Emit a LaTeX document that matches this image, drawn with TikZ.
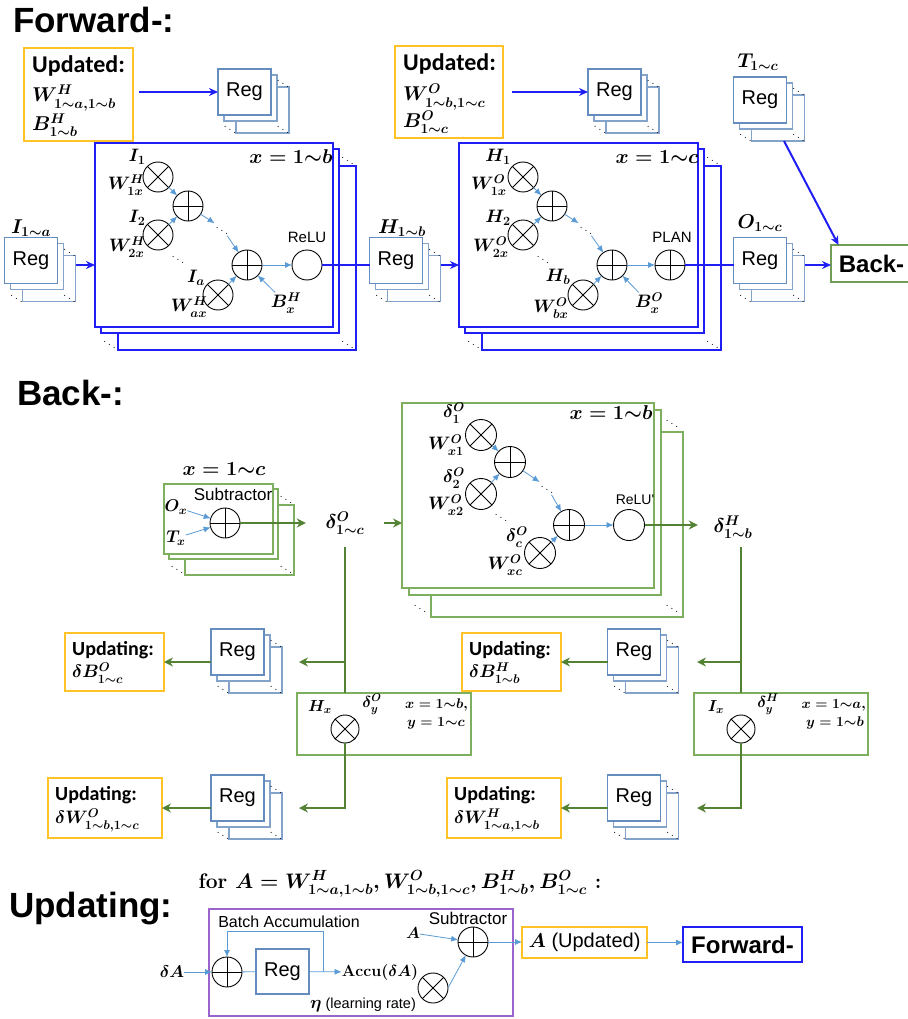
\RequirePackage{fix-cm}
\documentclass[tikz,border=0pt]{standalone}
\usepackage{amsmath}
\usepackage{bm}
\usepackage{fontspec}
\newfontfamily\arial{Liberation Sans}
\newfontfamily\calibri{Carlito}
\usetikzlibrary{arrows.meta,backgrounds}

\definecolor{fblue}{RGB}{30,30,245}
\definecolor{regc}{RGB}{100,140,190}
\definecolor{gold}{RGB}{255,195,40}
\definecolor{sigc}{RGB}{91,155,213}
\definecolor{dgreen}{RGB}{84,130,53}
\definecolor{lgreen}{RGB}{125,175,95}
\definecolor{purp}{RGB}{155,100,205}

\newcommand\fsz[1]{\fontsize{#1}{#1}\selectfont}
% two shifted copies behind a front box, with the dots between them
\newcommand\stackbehind[4]{%
  \pgfmathsetmacro\lyrmid{(#2+#3)/2}
  \begin{scope}[on background layer]
    \draw[#4,fill=white] ([shift={(#3,#3)}]#1.north west) rectangle ([shift={(#3,#3)}]#1.south east);
    \draw[#4,fill=white] ([shift={(#2,#2)}]#1.north west) rectangle ([shift={(#2,#2)}]#1.south east);
  \end{scope}
  \node[dotn] at ([shift={(\lyrmid,\lyrmid)}]#1.north east) {$\ddots$};
  \node[dotn] at ([shift={(\lyrmid,\lyrmid)}]#1.south west) {$\ddots$};
  \node[dotn] at ([shift={(\lyrmid,\lyrmid)}]#1.south east) {$\ddots$};
}

\begin{document}
\begin{tikzpicture}[x=1pt,y=-1pt,
  regbox/.style={draw=regc,line width=1.1pt,fill=white,minimum width=53pt,minimum height=46pt,inner sep=0pt,outer sep=0pt,font=\arial\fsz{20pt}},
  bigf/.style={draw=fblue,line width=1.3pt,fill=white,inner sep=0pt,outer sep=0pt},
  bigb/.style={draw=lgreen,line width=1.1pt,fill=white,inner sep=0pt,outer sep=0pt},
  ubox/.style={draw=gold,line width=1.2pt,inner sep=0pt,outer sep=0pt},
  mulc/.style={circle,draw,line width=0.9pt,fill=white,minimum size=30pt,inner sep=0pt,outer sep=0pt,
    path picture={\draw[line width=0.9pt] (path picture bounding box.north west) -- (path picture bounding box.south east)
      (path picture bounding box.north east) -- (path picture bounding box.south west);}},
  addc/.style={circle,draw,line width=0.9pt,fill=white,minimum size=30pt,inner sep=0pt,outer sep=0pt,
    path picture={\draw[line width=0.9pt] (path picture bounding box.north) -- (path picture bounding box.south)
      (path picture bounding box.west) -- (path picture bounding box.east);}},
  ringc/.style={circle,draw,line width=0.9pt,fill=white,minimum size=30pt,inner sep=0pt,outer sep=0pt},
  ml/.style={inner sep=0pt,font=\fsz{#1}\boldmath},
  sf/.style={inner sep=0pt,font=\arial\fsz{#1}},
  ut/.style={anchor=west,inner sep=0pt,font=\calibri\bfseries\fsz{#1}},
  ttl/.style={anchor=base west,inner sep=0pt,font=\arial\bfseries\fsz{35pt}},
  dotn/.style={inner sep=0pt,font=\fsz{12pt}\boldmath},
  sig/.style={draw=sigc,line width=0.8pt,-{Latex[length=7pt,width=6pt]}},
  sigl/.style={draw=sigc,line width=0.8pt},
  fwd/.style={draw=fblue,line width=2pt,-{Stealth[length=9pt,width=8pt]}},
  fwdl/.style={draw=fblue,line width=2pt},
  bk/.style={draw=dgreen,line width=2pt,-{Stealth[length=9pt,width=9pt]}},
  bkl/.style={draw=dgreen,line width=2pt}]
\useasboundingbox (0,0) rectangle (907,1019);

% ---------- forward ----------
\node[ttl] at (13,33) {Forward-:};

% updated hidden weights
\node[ubox,minimum width=109pt,minimum height=93pt] (upd1) at (78.5,94.5) {};
\node[ut=24pt] at (32,66) {Updated:};
\node[ml=20pt,anchor=west] at (32,98) {$W^{H}_{1{\sim}a,1{\sim}b}$};
\node[ml=20pt,anchor=west] at (32,125) {$B^{H}_{1{\sim}b}$};
\node[regbox] (reg1) at (244.5,92) {Reg};
\stackbehind{reg1}{6}{18}{draw=regc!80,line width=1.1pt}
\draw[fwd,shorten <=6pt] (upd1.east |- reg1) -- (reg1.west);

% inputs
\node[regbox] (regI) at (31,260.5) {Reg};
\stackbehind{regI}{6}{18}{draw=regc!80,line width=1.1pt}
\node[ml=20pt] at (31,228) {$I_{1{\sim}a}$};

% hidden neuron x
\node[bigf,minimum width=238pt,minimum height=184pt] (fb1) at (214,235) {};
\stackbehind{fb1}{6}{23}{draw=fblue,line width=1.3pt}
\node[ml=20pt] at (291,157) {$x=1{\sim}b$};
\node[mulc] (m11) at (158,177) {};
\node[addc] (a11) at (188,206) {};
\node[mulc] (m12) at (158,235) {};
\node[addc] (a12) at (247,265) {};
\node[mulc] (m13) at (218,295) {};
\node[ringc] (relu) at (307,265) {};
\node[dotn] (d11) at (222,228) {$\ddots$};
\node[dotn] (d12) at (178,257) {$\ddots$};
\node[ml=18pt] at (137,157) {$I_1$};
\node[ml=18pt] at (126,185) {$W^{H}_{1x}$};
\node[ml=18pt] at (137,218) {$I_2$};
\node[ml=18pt] at (127,247) {$W^{H}_{2x}$};
\node[ml=18pt] at (196,278) {$I_a$};
\node[ml=18pt] at (189,307) {$W^{H}_{ax}$};
\node[ml=18pt] (bh) at (286,303) {$B^{H}_{x}$};
\node[sf=15pt] at (307,237) {ReLU};
\draw[sig] (m11) -- (a11);
\draw[sig] (m12) -- (a11);
\draw[sig] (a11) -- (d11);
\draw[sig] (d11) -- (a12);
\draw[sig] (m13) -- (a12);
\draw[sig] (bh) -- (a12);
\draw[sig] (a12) -- (relu);
\coordinate (iI) at ([shift={(18,4.5)}]regI.east);
\draw[fwd] (iI) -- (iI -| fb1.west);

% hidden outputs
\node[regbox] (regH) at (396,260.5) {Reg};
\stackbehind{regH}{6}{18}{draw=regc!80,line width=1.1pt}
\node[ml=20pt] at (402,228) {$H_{1{\sim}b}$};
\draw[fwdl] (relu) -- (relu -| regH.west);

% updated output weights
\node[ubox,minimum width=108pt,minimum height=92pt] (upd2) at (449,92) {};
\node[ut=24pt] at (403,64) {Updated:};
\node[ml=20pt,anchor=west] at (403,97) {$W^{O}_{1{\sim}b,1{\sim}c}$};
\node[ml=20pt,anchor=west] at (403,122) {$B^{O}_{1{\sim}c}$};
\node[regbox] (reg2) at (614.5,92) {Reg};
\stackbehind{reg2}{6}{18}{draw=regc!80,line width=1.1pt}
\draw[fwd,shorten <=9pt] (upd2.east |- reg2) -- (reg2.west);

% output neuron x
\node[bigf,minimum width=239pt,minimum height=184pt] (fb2) at (578.5,235) {};
\stackbehind{fb2}{6}{23}{draw=fblue,line width=1.3pt}
\node[ml=20pt] at (657,157) {$x=1{\sim}c$};
\node[mulc] (m21) at (523,177) {};
\node[addc] (a21) at (552,206) {};
\node[mulc] (m22) at (523,235) {};
\node[addc] (a22) at (612,265) {};
\node[mulc] (m23) at (583,295) {};
\node[addc] (plan) at (670,265) {};
\node[dotn] (d21) at (586,228) {$\ddots$};
\node[dotn] (d22) at (543,257) {$\ddots$};
\node[ml=18pt] at (498,157) {$H_1$};
\node[ml=18pt] at (489,185) {$W^{O}_{1x}$};
\node[ml=18pt] at (498,218) {$H_2$};
\node[ml=18pt] at (491,247) {$W^{O}_{2x}$};
\node[ml=18pt] at (558,277) {$H_b$};
\node[ml=18pt] at (551,308) {$W^{O}_{bx}$};
\node[ml=18pt] (bo) at (649,303) {$B^{O}_{x}$};
\node[sf=15pt] at (672,237) {PLAN};
\draw[sig] (m21) -- (a21);
\draw[sig] (m22) -- (a21);
\draw[sig] (a21) -- (d21);
\draw[sig] (d21) -- (a22);
\draw[sig] (m23) -- (a22);
\draw[sig] (bo) -- (a22);
\draw[sig] (a22) -- (plan);
\coordinate (iH) at ([shift={(18,4.5)}]regH.east);
\draw[fwd] (iH) -- (iH -| fb2.west);

% outputs and targets
\node[regbox] (regO) at (760,260.5) {Reg};
\stackbehind{regO}{6}{18}{draw=regc!80,line width=1.1pt}
\node[ml=20pt] at (760,223) {$O_{1{\sim}c}$};
\draw[fwdl] (plan) -- (plan -| regO.west);
\node[draw=lgreen!90!black,line width=2pt,minimum width=81pt,minimum height=37pt,inner sep=0pt,outer sep=0pt,font=\arial\bfseries\fsz{24pt}] (bkb) at (871.5,263.5) {Back-};
\coordinate (iO) at ([shift={(18,4.5)}]regO.east);
\draw[fwd] (iO) -- (iO -| bkb.west);
\node[regbox] (regT) at (760,100) {Reg};
\stackbehind{regT}{6}{18}{draw=regc!80,line width=1.1pt}
\node[ml=20pt] at (758,62) {$T_{1{\sim}c}$};
\coordinate (oT) at ([shift={(24,18)}]regT.south);
\coordinate (iB) at ([shift={(-33,0)}]bkb.north);
\draw[fwd] (oT) -- (iB);

% ---------- back ----------
\node[ttl] at (17,405) {Back-:};

% output error, x = 1~c
\node[bigb,minimum width=109pt,minimum height=70pt] (sb) at (218.5,519) {};
\stackbehind{sb}{5}{21}{draw=lgreen,line width=1.1pt}
\node[ml=20pt] at (224,469) {$x=1{\sim}c$};
\node[sf=17pt] at (233,494) {Subtractor};
\node[addc] (s1) at (225,523) {};
\node[ml=17pt] (ox) at (176,507) {$O_x$};
\node[ml=17pt] (tx) at (176,538) {$T_x$};
\draw[sig] (ox) -- (s1);
\draw[sig] (tx) -- (s1);
\node[ml=20pt,minimum width=78pt,minimum height=48pt] (dO) at (345,523) {$\delta^{O}_{1{\sim}c}$};
\draw[bk] (s1) -- (dO);

% hidden error, x = 1~b
\node[bigb,minimum width=252pt,minimum height=185pt] (bb) at (528,495.5) {};
\stackbehind{bb}{7}{29}{draw=lgreen,line width=1.1pt}
\node[ml=20pt] at (611,413) {$x=1{\sim}b$};
\node[mulc,minimum size=31pt] (n11) at (481,435) {};
\node[addc,minimum size=31pt] (n12) at (510,462) {};
\node[mulc,minimum size=31pt] (n13) at (481,494) {};
\node[addc,minimum size=31pt] (n14) at (569,525) {};
\node[mulc,minimum size=31pt] (n15) at (540,553) {};
\node[ringc,minimum size=31pt] (relud) at (629,525) {};
\node[dotn] (d31) at (547,487) {$\ddots$};
\node[dotn] (d32) at (501,515) {$\ddots$};
\node[ml=18pt] at (454,413) {$\delta^{O}_{1}$};
\node[ml=18pt] at (446,445) {$W^{O}_{x1}$};
\node[ml=18pt] at (454,478) {$\delta^{O}_{2}$};
\node[ml=18pt] at (446,505) {$W^{O}_{x2}$};
\node[ml=18pt] at (517,537) {$\delta^{O}_{c}$};
\node[ml=18pt] at (505,565) {$W^{O}_{xc}$};
\node[sf=14pt] at (635,500) {ReLU'};
\draw[sig] (n11) -- (n12);
\draw[sig] (n13) -- (n12);
\draw[sig] (n12) -- (d31);
\draw[sig] (d31) -- (n14);
\draw[sig] (n15) -- (n14);
\draw[sig] (n14) -- (relud);
\draw[bk] (dO.east) -- (dO.east -| bb.west);
\node[ml=20pt,minimum width=70pt,minimum height=40pt] (dH) at (733,527) {$\delta^{H}_{1{\sim}b}$};
\draw[bk] (relud) -- (relud -| dH.west);

% output layer gradients
\node[bigb,minimum width=174pt,minimum height=62pt] (hx) at (384,724) {};
\node[mulc,minimum size=28pt] (hm) at (345,729) {};
\node[ml=16pt] at (320,707) {$H_x$};
\node[ml=16pt] at (372,704) {$\delta^{O}_{y}$};
\node[ml=14pt,anchor=east] at (468,705) {$x=1{\sim}b,$};
\node[ml=14pt,anchor=east] at (465,723) {$y=1{\sim}c$};
\draw[bkl] (dO.south) -- (dO.south |- hx.north);

\node[ubox,minimum width=99pt,minimum height=58pt] (uBO) at (114.5,662) {};
\node[ut=20pt] at (72,650) {Updating:};
\node[ml=18pt,anchor=west] at (72,673) {$\delta B^{O}_{1{\sim}c}$};
\node[regbox] (rBO) at (237.5,652) {Reg};
\stackbehind{rBO}{6}{18}{draw=regc!80,line width=1.1pt}
\draw[bk] (rBO.west |- uBO) -- (uBO.east);
\coordinate (jBO) at (dO.south |- uBO);
\coordinate (eBO) at ([shift={(-46,0)}]jBO);
\draw[bk] (jBO) -- (eBO);

\node[ubox,minimum width=114pt,minimum height=60pt] (uWO) at (105,808) {};
\node[ut=20pt] at (55,795) {Updating:};
\node[ml=18pt,anchor=west] at (55,820) {$\delta W^{O}_{1{\sim}b,1{\sim}c}$};
\node[regbox] (rWO) at (237.5,798) {Reg};
\stackbehind{rWO}{6}{18}{draw=regc!80,line width=1.1pt}
\draw[bk] (rWO.west |- uWO) -- (uWO.east);
\coordinate (jWO) at (hm |- uWO);
\coordinate (eWO) at ([shift={(-46,0)}]jWO);
\draw[bk] (hm.south) -- (jWO) -- (eWO);

% hidden layer gradients
\node[bigb,minimum width=174pt,minimum height=62pt] (ix) at (781,724) {};
\node[mulc,minimum size=28pt] (im) at (741,729) {};
\node[ml=16pt] at (716,707) {$I_x$};
\node[ml=16pt] at (768,704) {$\delta^{H}_{y}$};
\node[ml=14pt,anchor=east] at (866,705) {$x=1{\sim}a,$};
\node[ml=14pt,anchor=east] at (864,723) {$y=1{\sim}b$};
\draw[bkl] (im |- dH.south) -- (im |- ix.north);

\node[ubox,minimum width=99pt,minimum height=58pt] (uBH) at (511.5,662) {};
\node[ut=20pt] at (469,650) {Updating:};
\node[ml=18pt,anchor=west] at (469,673) {$\delta B^{H}_{1{\sim}b}$};
\node[regbox] (rBH) at (634,652) {Reg};
\stackbehind{rBH}{6}{18}{draw=regc!80,line width=1.1pt}
\draw[bk] (rBH.west |- uBH) -- (uBH.east);
\coordinate (jBH) at (im |- uBH);
\coordinate (eBH) at ([shift={(-44,0)}]jBH);
\draw[bk] (jBH) -- (eBH);

\node[ubox,minimum width=114pt,minimum height=60pt] (uWH) at (504,808) {};
\node[ut=20pt] at (454,795) {Updating:};
\node[ml=18pt,anchor=west] at (454,820) {$\delta W^{H}_{1{\sim}a,1{\sim}b}$};
\node[regbox] (rWH) at (634,798) {Reg};
\stackbehind{rWH}{6}{18}{draw=regc!80,line width=1.1pt}
\draw[bk] (rWH.west |- uWH) -- (uWH.east);
\coordinate (jWH) at (im |- uWH);
\coordinate (eWH) at ([shift={(-44,0)}]jWH);
\draw[bk] (im.south) -- (jWH) -- (eWH);

% ---------- updating ----------
\node[ttl] at (9,917) {Updating:};
\node[ml=21pt] (forA) at (400,884) {\bfseries for $A=W^{H}_{1{\sim}a,1{\sim}b},W^{O}_{1{\sim}b,1{\sim}c},B^{H}_{1{\sim}b},B^{O}_{1{\sim}c}$ :};
\node[draw=purp,line width=1.2pt,minimum width=304pt,minimum height=107pt,inner sep=0pt,outer sep=0pt] (pb) at (361,962.5) {};
\node[sf=16pt] at (289,922) {Batch Accumulation};
\node[sf=17pt] at (468,918) {Subtractor};
\node[ml=16pt] (alab) at (413,933) {$A$};
\node[addc] (sub2) at (473,942) {};
\node[addc] (acc) at (227,972) {};
\node[ml=17pt] (dA) at (172,972) {$\delta A$};
\node[regbox,minimum height=45pt] (rega) at (282.5,971.5) {Reg};
\node[ml=16pt] (accu) at (380,972) {$\mathbf{Accu}(\delta A)$};
\node[mulc] (meta) at (433,988) {};
\node[sf=14.5pt] (eta) at (363,1005) {{\fsz{18pt}$\bm{\eta}$} (learning rate)};
\draw[sig] (dA) -- (acc);
\draw[sigl] (acc) -- (rega);
\draw[sig] (rega) -- (accu);
\coordinate (lp) at ([shift={(14,0)}]rega.east);
\coordinate (lp1) at ([shift={(0,-40)}]lp);
\coordinate (lp2) at (acc |- lp1);
\draw[sig] (lp) -- (lp1) -- (lp2) -- (acc);
\draw[sig] (alab) -- (sub2);
\draw[sig] (meta.east) -- (sub2);
\node[draw=gold,line width=1.2pt,minimum width=125pt,minimum height=31pt,inner sep=0pt,outer sep=0pt,font=\arial\fsz{20pt}] (aupd) at (584.5,942.5) {$\bm{A}$ (Updated)};
\node[draw=fblue,line width=2pt,minimum width=119pt,minimum height=35pt,inner sep=0pt,outer sep=0pt,font=\arial\bfseries\fsz{24pt}] (fwb) at (742.5,944.5) {Forward-};
\draw[sig] (sub2) -- (sub2 -| aupd.west);
\draw[sig] (aupd.east) -- (aupd.east -| fwb.west);
\end{tikzpicture}
\end{document}
